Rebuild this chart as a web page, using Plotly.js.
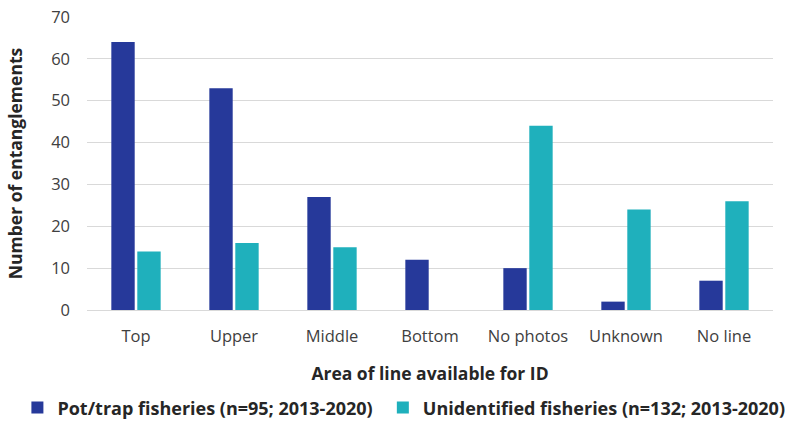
<!DOCTYPE html>
<html><head><meta charset="utf-8">
<script src="https://cdn.plot.ly/plotly-3.0.1.min.js"></script>
<style>html,body{margin:0;padding:0;background:#fff}#chart{width:791px;height:428px}</style>
</head><body><div id="chart"></div>
<script>
const categories = ["Top","Upper","Middle","Bottom","No photos","Unknown","No line"];
const potTrap = [64,53,27,12,10,2,7];
const unidentified = [14,16,15,0,44,24,26];
const seriesNames = ["Pot/trap fisheries (n=95; 2013-2020)","Unidentified fisheries (n=132; 2013-2020)"];
const yTicks = [0,10,20,30,40,50,60,70];

const font = {family:"Open Sans, Noto Sans, sans-serif", color:"#404040", size:16};
const data = [
  {type:"bar", x:categories, y:potTrap, name:seriesNames[0], marker:{color:"#26399a"}, legend:"legend", showlegend:true},
  {type:"bar", x:categories, y:unidentified, name:seriesNames[1], marker:{color:"#1fb0bc"}, legend:"legend2", showlegend:true}
];
const legendFont = {size:18,color:"#262626", weight:"bold"};
const layout = {
  width:791, height:428,
  showlegend:true,
  margin:{l:87, r:18, t:17, b:118},
  paper_bgcolor:"#fff", plot_bgcolor:"#fff",
  font:font,
  barmode:"group", bargap:0.47, bargroupgap:0.1,
  xaxis:{title:{text:"<b>Area of line available for ID</b>", font:{size:17.5,color:"#262626"}, standoff:22},
         tickfont:{size:16.5,color:"#404040"}, showline:false, ticks:"", ticklabelstandoff:14, automargin:false},
  yaxis:{title:{text:"<b>Number of entanglements</b>", font:{size:17.5,color:"#262626"}, standoff:24},
         range:[0,70], tickvals:yTicks, tickfont:{size:16.5,color:"#404040"},
         gridcolor:"#d9d9d9", zerolinecolor:"#d9d9d9", showline:false, ticks:"", ticklabelstandoff:16, automargin:false},
  legend:{orientation:"h", xref:"container", x:0.022, xanchor:"left", yref:"container", y:0.047, yanchor:"middle",
          font:legendFont, itemwidth:30, visible:true},
  legend2:{orientation:"h", xref:"container", x:0.484, xanchor:"left", yref:"container", y:0.047, yanchor:"middle",
          font:legendFont, itemwidth:30, visible:true}
};
Plotly.newPlot("chart", data, layout, {displayModeBar:false, staticPlot:true});
</script></body></html>
